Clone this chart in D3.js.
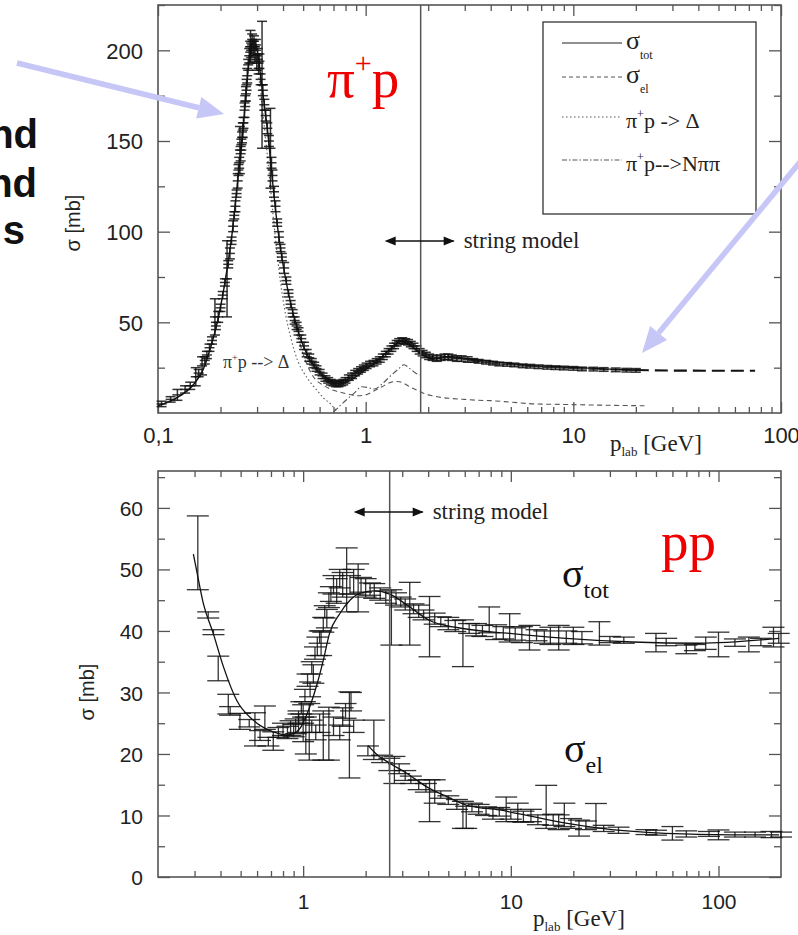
<!DOCTYPE html>
<html>
<head>
<meta charset="utf-8">
<script src="https://cdnjs.cloudflare.com/ajax/libs/d3/7.8.5/d3.min.js"></script>
<style>
  body { margin: 0; background: #fff; }
  svg { display: block; }
</style>
</head>
<body>
<svg id="chart" width="798" height="935"></svg>
<script>
// ---------------- pi+ p panel (top) ----------------
// fitted total cross section (solid), tail drawn dashed
const pipTotX = [0.1, 0.124, 0.149, 0.165, 0.179, 0.193, 0.21, 0.228, 0.242, 0.254, 0.265, 0.275, 0.288, 0.3, 0.312, 0.325, 0.339, 0.356, 0.375, 0.4, 0.425, 0.45, 0.486, 0.524, 0.564, 0.63, 0.73, 0.816, 0.91, 0.982, 1.14, 1.32, 1.47, 1.65, 1.84, 2.13, 2.5, 3.2, 4.0, 6.5, 10, 15, 20];
const pipTotY = [4, 8.6, 16, 24, 36, 50, 72, 100, 128, 150, 175, 195, 205, 200, 186, 170, 153, 128, 104, 82, 66, 54, 41, 32, 26, 20, 16.5, 17.3, 20.5, 23.3, 28.9, 35.3, 39.5, 37.1, 32.6, 29.8, 31, 29.8, 28.5, 26.1, 25.2, 24.2, 23.7];
const pipTailX = [20, 30, 45, 75];
const pipTailY = [23.7, 23.4, 23.3, 23.3];

// elastic (dashed)
const pipElX = [0.45, 0.505, 0.56, 0.63, 0.7, 0.757, 0.83, 0.912, 1.0, 1.1, 1.2, 1.32, 1.42, 1.52, 1.65, 1.78, 1.91, 2.1, 2.3, 2.6, 2.98, 3.5, 4.0, 5, 6.5, 8, 10, 14, 18, 22];
const pipElY = [52, 31, 20, 15.1, 12.5, 11.4, 10.3, 9.5, 10, 12.3, 14.5, 16.9, 17.4, 16.5, 14.1, 12.4, 10.8, 9.5, 8.6, 8, 7.5, 7, 6.8, 6, 5, 4.8, 4.6, 4.3, 4.1, 4];

// pi+ p -> Delta (dotted)
const pipDeltaX = [0.1, 0.124, 0.149, 0.165, 0.179, 0.193, 0.21, 0.228, 0.242, 0.254, 0.265, 0.275, 0.288, 0.3, 0.312, 0.325, 0.339, 0.362, 0.385, 0.412, 0.435, 0.47, 0.505, 0.545, 0.585, 0.63, 0.678, 0.73];
const pipDeltaY = [4, 8.6, 16, 24, 36, 50, 72, 100, 128, 150, 175, 193, 200, 192, 177, 158, 138, 104, 76, 54, 42, 29, 22, 16.5, 12.3, 8, 5, 0.5];

// pi+ p -> N pi pi (dash-dot)
const pipNppX = [0.7, 0.76, 0.816, 0.88, 0.96, 1.03, 1.1, 1.2, 1.32, 1.43, 1.53, 1.65, 1.77, 1.84];
const pipNppY = [0.5, 4.5, 7.7, 11, 14.5, 14, 13.2, 16, 20.6, 24, 26.6, 24, 21.5, 21];

// measured points [p_lab, sigma, error]
const pipData = [
  [0.104, 5, 1.5], [0.115, 7.5, 1.5], [0.124, 10, 3], [0.135, 13, 2], [0.143, 15, 2],
  [0.152, 20, 5], [0.157, 22, 2], [0.163, 26, 5], [0.168, 29, 2], [0.172, 32, 2],
  [0.177, 36, 2], [0.182, 40, 2], [0.188, 53, 10], [0.19, 48, 2], [0.195, 53, 3],
  [0.2, 58, 2], [0.205, 65, 2], [0.21, 72, 2], [0.215, 74, 21], [0.218, 82, 2],
  [0.222, 88, 3], [0.226, 95, 2], [0.23, 103, 3], [0.233, 109, 2], [0.236, 114, 3],
  [0.239, 121, 2], [0.242, 128, 4], [0.244, 134, 3], [0.246, 138, 3], [0.248, 145, 13],
  [0.25, 143, 4], [0.252, 148, 3], [0.254, 152, 3], [0.256, 156, 4], [0.258, 160, 3],
  [0.261, 167, 4], [0.263, 172, 3], [0.265, 176, 4], [0.267, 181, 3], [0.269, 186, 4],
  [0.272, 192, 3], [0.275, 197, 4], [0.278, 202, 3], [0.279, 202, 9], [0.281, 200, 4],
  [0.284, 206, 3], [0.287, 201, 4], [0.29, 205, 3], [0.293, 198, 4], [0.296, 203, 3],
  [0.299, 193, 4], [0.302, 198, 3], [0.305, 190, 3], [0.308, 194, 4], [0.312, 184, 3],
  [0.317, 181, 35], [0.32, 178, 3], [0.325, 170, 3], [0.33, 164, 3], [0.336, 157, 3],
  [0.342, 150, 3], [0.348, 146, 22], [0.352, 138, 3], [0.356, 131, 3], [0.362, 122, 3],
  [0.368, 114, 3], [0.375, 105, 2], [0.382, 97, 3], [0.389, 91, 2], [0.395, 86, 2],
  [0.405, 80, 3], [0.415, 73, 2], [0.425, 66, 2], [0.435, 60, 2], [0.445, 55, 2],
  [0.455, 51, 2], [0.465, 48, 2], [0.475, 45, 2], [0.49, 41, 2], [0.505, 37, 2],
  [0.52, 33, 2], [0.535, 30.5, 2], [0.55, 28.5, 1.5], [0.565, 26.5, 1.5], [0.58, 24.5, 1.5],
  [0.6, 22.5, 1.5], [0.62, 20.5, 1.5], [0.64, 19, 1.5], [0.66, 18, 1.5], [0.68, 17, 1.5],
  [0.7, 16.5, 1.5], [0.72, 16, 1.5], [0.74, 16, 1.5], [0.76, 16.5, 1.5], [0.78, 17, 1.5],
  [0.8, 18, 1.5], [0.83, 19.5, 1.5], [0.86, 20.5, 1.5], [0.89, 22, 1.5], [0.92, 23, 1.5],
  [0.95, 24, 1.5], [0.98, 25, 1.5], [1.01, 26, 1.5], [1.05, 27, 1.5], [1.09, 27.5, 1.5],
  [1.13, 28.5, 1.5], [1.17, 29.5, 1.5], [1.21, 31, 1.5], [1.25, 32.5, 1.5], [1.29, 34, 1.5],
  [1.33, 35.5, 1.5], [1.37, 37, 1.5], [1.41, 38.5, 1.5], [1.45, 39.5, 1.5], [1.5, 40, 1.5],
  [1.55, 39.5, 1.5], [1.6, 39, 1.5], [1.65, 38, 1.5], [1.7, 37, 1.5], [1.76, 35.5, 1.5],
  [1.82, 34, 1.5], [1.88, 33, 1.5], [1.95, 32, 1.5], [2.02, 31, 1.5], [2.1, 30.5, 1.5],
  [2.2, 30, 1.5], [2.3, 30.5, 1.5], [2.4, 31, 1.5], [2.5, 31, 1.5], [2.6, 30.5, 1.5],
  [2.75, 30, 1.5], [2.9, 30, 1.5], [3.1, 29.5, 1.5], [3.3, 29, 1], [3.5, 28.5, 1],
  [3.8, 28, 1], [4.1, 27.5, 1], [4.4, 27, 1], [4.8, 26.8, 1], [5.2, 26.5, 1],
  [5.7, 26, 1], [6.2, 25.8, 1], [6.8, 25.5, 1], [7.5, 25.2, 1], [8.2, 25, 1],
  [9, 24.8, 1], [10, 24.6, 1], [11, 24.3, 1], [12.5, 24.2, 1], [14, 24, 1],
  [16, 23.8, 1], [18, 23.6, 1], [20, 23.5, 1]
];

const pipStringP = 1.84;
const topXTicks = [0.1, 1, 10, 100];
const topXLabels = ["0,1", "1", "10", "100"];
const topYTicks = [50, 100, 150, 200];
const topYMinor = [25, 75, 125, 175, 225];

// ---------------- pp panel (bottom) ----------------
const ppTotCurveX = [0.296, 0.307, 0.331, 0.369, 0.413, 0.479, 0.575, 0.718, 0.832, 0.895, 0.98, 1.077, 1.17, 1.25, 1.34, 1.5, 1.68, 1.9, 2.2, 2.61, 3.26, 4.06, 5.4, 9.87, 18.4, 38.6, 80.9, 196];
const ppTotCurveY = [52.5, 49.8, 44.4, 39.6, 34.2, 28.7, 25.5, 23.6, 23.1, 23.3, 24.5, 27.7, 31.5, 35.2, 39.6, 42.8, 45, 46.2, 46.5, 46, 43.9, 41.7, 40.6, 39.6, 38.8, 38.2, 38, 38.8];
const ppElCurveX = [2.05, 2.25, 2.61, 3.14, 3.92, 4.89, 6.1, 8.81, 12.8, 18.4, 26.7, 55.5, 116, 196];
const ppElCurveY = [21.4, 20, 18.5, 16.9, 14.7, 13.1, 11.7, 10.9, 9.8, 8.76, 7.95, 7.1, 6.86, 6.86];

const ppTotData = [
  [0.311, 52.7, 6], [0.349, 42.6, 0.5], [0.37, 39.8, 0.4], [0.39, 33.9, 2], [0.436, 28.1, 1.6],
  [0.445, 27, 0.7], [0.496, 25.3, 1.3], [0.55, 25, 0.6], [0.586, 24, 2.7], [0.62, 23, 0.8],
  [0.654, 25.9, 1.9], [0.68, 22, 0.7], [0.718, 22.1, 1.5], [0.76, 23.5, 0.8], [0.8, 24, 1],
  [0.84, 23.5, 1], [0.87, 24.2, 1.2], [0.9, 23.8, 1],
  [0.92, 24.5, 1.2], [0.95, 26, 1], [0.98, 27.5, 1], [1.0, 26.5, 1.5], [1.02, 29.5, 1],
  [1.05, 32, 1], [1.08, 30.5, 1.2], [1.1, 34, 1], [1.12, 33, 1.5], [1.14, 36.4, 1],
  [1.17, 37.5, 1.5], [1.2, 39, 1], [1.22, 38, 2], [1.25, 41, 1.2], [1.27, 43.1, 1],
  [1.3, 42, 1.5], [1.33, 45, 1.2], [1.36, 46, 1.2], [1.4, 47.5, 1.5], [1.45, 46.5, 2],
  [1.5, 48.5, 1.5], [1.55, 47.5, 2], [1.62, 48.3, 5.2], [1.68, 47.5, 1.5], [1.75, 48, 2],
  [1.84, 47, 3.9], [1.9, 47.5, 1.2], [2.0, 47, 1.5], [2.1, 46.8, 1], [2.2, 46.5, 1.2],
  [2.35, 46, 1], [2.5, 45.5, 1], [2.66, 42.2, 4.5], [2.8, 45.2, 1], [2.95, 44.7, 0.8],
  [3.1, 44.3, 0.9], [3.26, 42.8, 5.1], [3.4, 43.6, 0.8], [3.6, 43.2, 1], [3.8, 42.6, 0.8],
  [4.06, 40.7, 4.9], [4.3, 42, 0.9], [4.6, 41.5, 0.8], [5.0, 41.2, 1], [5.4, 40.8, 0.9],
  [5.88, 38, 3.8], [6.3, 40.4, 0.8], [6.8, 40.2, 1], [7.3, 40, 0.9], [7.87, 41.8, 2.1],
  [8.5, 39.8, 1.2], [9.2, 39.7, 1], [9.87, 40.5, 2.3], [10.5, 39.5, 1], [11.3, 39.4, 1.3],
  [12.3, 38.9, 2], [13.3, 39.3, 0.9], [14.5, 39, 1], [15.5, 39.2, 1.4], [17, 38.9, 2],
  [18.5, 39, 1], [20, 39.2, 1.4], [22, 38.9, 1], [26.7, 39.6, 1.9], [30, 38.6, 0.5],
  [35, 38.5, 0.5], [50, 38.1, 1.5], [56, 38.2, 0.6], [70, 37, 0.7], [77, 37.3, 0.5],
  [86.8, 38, 1], [100, 37.8, 2], [120, 38.1, 0.6], [140, 37.8, 1.2], [160, 38.2, 0.6],
  [184, 39, 1.6], [195, 38.8, 0.8]
];

const ppElData = [
  [0.95, 25, 1.5], [1.0, 24, 2], [1.03, 23, 3], [1.07, 23.6, 4.6], [1.1, 24.5, 1],
  [1.15, 23.5, 1.2], [1.2, 25, 1.5], [1.25, 23, 4], [1.33, 23.3, 4.3], [1.4, 24.5, 1.5],
  [1.5, 23.5, 1.2], [1.55, 26, 1.5], [1.6, 27, 1.2], [1.67, 23.1, 7], [1.7, 28.5, 1.5],
  [1.75, 24.5, 1], [2.05, 20.5, 0.8], [2.19, 22.3, 3.2], [2.4, 19.2, 0.6], [2.6, 18.3, 1],
  [2.75, 17.4, 2.2], [2.9, 17.6, 0.8], [3.1, 16.5, 0.8], [3.3, 15.8, 0.6], [3.6, 15, 0.8],
  [3.9, 14.5, 0.7], [4.06, 12.4, 3.4], [4.3, 13.9, 1.9], [4.6, 13.4, 0.6], [5.0, 12.5, 0.7],
  [5.5, 11.8, 0.8], [5.88, 10.1, 2.2], [6.1, 9.7, 1.8], [6.5, 11.3, 0.7], [7, 11, 0.8],
  [7.6, 10.7, 0.7], [8.2, 10.3, 0.9], [8.8, 10.6, 0.7], [9.5, 11, 2], [10, 10.2, 0.8],
  [10.8, 10.5, 1.5], [11.5, 9.8, 0.9], [12.5, 10, 1], [13.5, 9.3, 0.8], [14.8, 11.4, 3.5],
  [16, 9.3, 0.9], [17, 8.9, 1.2], [18.1, 10.1, 1.9], [19.5, 8.7, 0.8], [21.3, 7.95, 1.3],
  [23, 8.4, 0.7], [25.7, 9.95, 2], [28, 7.9, 0.5], [33, 7.6, 0.5], [45, 7.3, 0.4],
  [50, 7.2, 0.4], [60, 7.1, 1.1], [70, 7.0, 0.5], [90, 7.0, 0.4], [100, 6.85, 0.8],
  [120, 6.9, 0.4], [150, 6.9, 0.4], [180, 6.9, 0.5], [200, 6.9, 0.4]
];

const ppStringP = 2.61;
const botXTicks = [1, 10, 100];
const botYTicks = [0, 10, 20, 30, 40, 50, 60];
const botYMinor = [5, 15, 25, 35, 45, 55, 65];

// legend entries
const legendNames = ["tot", "el", "delta", "npp"];

// ---------------------------------------------------
const svg = d3.select("#chart");
const sans = "'Liberation Sans', Arial, Helvetica, sans-serif";
const serif = "'Liberation Serif', 'Times New Roman', serif";
const frameColor = "#555";

const topX = d3.scaleLog().domain([0.1, 100]).range([158, 781]);
const topY = d3.scaleLinear().domain([0, 225]).range([413, 5]);
const botX = d3.scaleLog().domain([0.2, 200]).range([158, 781]);
const botY = d3.scaleLinear().domain([0, 66]).range([877, 471]);

function minorLog(lo, hi) {
  const out = [];
  for (let dec = Math.pow(10, Math.floor(Math.log10(lo))); dec < hi; dec *= 10) {
    for (let m = 2; m <= 9; m++) {
      const v = +(m * dec).toPrecision(3);
      if (v > lo && v < hi) out.push(v);
    }
  }
  return out;
}

function drawFrame(x, y, xMajor, xLabels, yMajor, yMinor, fontSize, labelBaseline) {
  const [x0, x1] = x.range();
  const [y0, y1] = y.range();
  const g = svg.append("g");
  // drop the axis defaults (domain line, 10px sans-serif) so our own style applies
  const strip = sel => sel.call(s => s.select(".domain").remove())
    .attr("font-size", null).attr("font-family", null)
    .style("font-family", sans).style("font-size", fontSize + "px")
    .call(s => s.selectAll("line").attr("stroke", frameColor).attr("stroke-width", 1.3));
  const xMinor = minorLog(x.domain()[0], x.domain()[1]);

  // bottom + top x ticks, inward
  g.append("g").attr("transform", `translate(0,${y0})`)
    .call(d3.axisBottom(x).tickValues(xMinor).tickSize(-6).tickFormat("")).call(strip);
  const xb = g.append("g").attr("transform", `translate(0,${y0})`)
    .call(d3.axisBottom(x).tickValues(xMajor).tickSize(-11).tickFormat((d, i) => xLabels[i])).call(strip);
  xb.selectAll("text").attr("y", labelBaseline - y0).attr("dy", 0).attr("fill", "#222");
  g.append("g").attr("transform", `translate(0,${y1})`)
    .call(d3.axisTop(x).tickValues(xMinor).tickSize(-6).tickFormat("")).call(strip);
  g.append("g").attr("transform", `translate(0,${y1})`)
    .call(d3.axisTop(x).tickValues(xMajor).tickSize(-11).tickFormat("")).call(strip);

  // left + right y ticks, inward
  const yl = g.append("g").attr("transform", `translate(${x0},0)`)
    .call(d3.axisLeft(y).tickValues(yMajor).tickSize(-12).tickPadding(15)).call(strip);
  yl.selectAll("text").attr("fill", "#222").attr("dy", "0.36em");
  g.append("g").attr("transform", `translate(${x0},0)`)
    .call(d3.axisLeft(y).tickValues(yMinor).tickSize(-7).tickFormat("")).call(strip);
  g.append("g").attr("transform", `translate(${x1},0)`)
    .call(d3.axisRight(y).tickValues(yMajor).tickSize(-12).tickFormat("")).call(strip);
  g.append("g").attr("transform", `translate(${x1},0)`)
    .call(d3.axisRight(y).tickValues(yMinor).tickSize(-7).tickFormat("")).call(strip);

  svg.append("rect").attr("x", x0).attr("y", y1).attr("width", x1 - x0).attr("height", y0 - y1)
    .attr("fill", "none").attr("stroke", frameColor).attr("stroke-width", 1.6);
}

function curve(x, y, xs, ys, style) {
  const pts = xs.map((v, i) => [v, ys[i]]);
  const line = d3.line().x(d => x(d[0])).y(d => y(d[1])).curve(d3.curveMonotoneX);
  return svg.append("path").datum(pts).attr("d", line)
    .attr("fill", "none").attr("stroke", style.color || "#222")
    .attr("stroke-width", style.width || 1.2)
    .attr("stroke-dasharray", style.dash || null);
}

function errorBars(x, y, data, half, mid, width) {
  const g = svg.append("g").attr("stroke", "#111").attr("stroke-width", width).attr("stroke-opacity", 0.85);
  const pt = g.selectAll("g").data(data).join("g");
  pt.append("line").attr("x1", d => x(d[0])).attr("x2", d => x(d[0]))
    .attr("y1", d => y(d[1] - d[2])).attr("y2", d => y(d[1] + d[2]));
  pt.append("line").attr("x1", d => x(d[0]) - half).attr("x2", d => x(d[0]) + half)
    .attr("y1", d => y(d[1] + d[2])).attr("y2", d => y(d[1] + d[2]));
  pt.append("line").attr("x1", d => x(d[0]) - half).attr("x2", d => x(d[0]) + half)
    .attr("y1", d => y(d[1] - d[2])).attr("y2", d => y(d[1] - d[2]));
  if (mid) {
    pt.append("line").attr("x1", d => x(d[0]) - half).attr("x2", d => x(d[0]) + half)
      .attr("y1", d => y(d[1])).attr("y2", d => y(d[1]));
  }
}

function arrowHead(x, y, dir, color) {
  // dir: +1 pointing right, -1 pointing left
  svg.append("path")
    .attr("d", `M${x},${y} l${-dir * 11},-4.5 l0,9 Z`)
    .attr("fill", color);
}

function stringModel(x, y, yPix, pStr) {
  const xs = x(pStr);
  svg.append("line").attr("x1", xs).attr("x2", xs).attr("y1", y.range()[0]).attr("y2", y.range()[1])
    .attr("stroke", frameColor).attr("stroke-width", 1.5);
  svg.append("line").attr("x1", xs - 34).attr("x2", xs + 33).attr("y1", yPix).attr("y2", yPix)
    .attr("stroke", "#111").attr("stroke-width", 1.3);
  arrowHead(xs - 36, yPix, -1, "#111");
  arrowHead(xs + 34, yPix, 1, "#111");
  svg.append("text").attr("x", xs + 43).attr("y", yPix + 7)
    .style("font-family", serif).style("font-size", "23px").attr("fill", "#222")
    .text("string model");
}

function yLabel(cx, cy) {
  svg.append("text").attr("transform", `translate(${cx},${cy}) rotate(-90)`)
    .attr("text-anchor", "middle").attr("dy", "0.35em")
    .style("font-family", sans).style("font-size", "20px").attr("fill", "#222")
    .text("σ [mb]");
}

function xLabel(x0, base) {
  const t = svg.append("text").attr("x", x0).attr("y", base)
    .style("font-family", serif).style("font-size", "23px").attr("fill", "#222");
  t.append("tspan").text("p");
  t.append("tspan").attr("dy", 5).style("font-size", "13px").text("lab");
  t.append("tspan").attr("dy", -5).text(" [GeV]");
}

// ---------------- top panel ----------------
drawFrame(topX, topY, topXTicks, topXLabels, topYTicks, topYMinor, 22, 443);

curve(topX, topY, pipDeltaX, pipDeltaY, { color: "#666", width: 1.2, dash: "1.5,2.5" });
curve(topX, topY, pipElX, pipElY, { color: "#555", width: 1.1, dash: "5,3.5" });
curve(topX, topY, pipNppX, pipNppY, { color: "#555", width: 1.1, dash: "6,2.5,1.5,2.5" });
errorBars(topX, topY, pipData, 5, true, 1.5);
curve(topX, topY, pipTotX, pipTotY, { color: "#111", width: 1.4 });
curve(topX, topY, pipTailX, pipTailY, { color: "#111", width: 2.2, dash: "13,6" });

stringModel(topX, topY, 241, pipStringP);
yLabel(73, 223);
xLabel(610, 451);

// label for the Delta curve
const dl = svg.append("text").attr("x", 223).attr("y", 368)
  .style("font-family", serif).style("font-size", "18px").attr("fill", "#333");
dl.append("tspan").text("π");
dl.append("tspan").attr("dy", -7).style("font-size", "10px").text("+");
dl.append("tspan").attr("dy", 7).text("p --> Δ");

// legend
const lg = svg.append("g");
lg.append("rect").attr("x", 543).attr("y", 22).attr("width", 213).attr("height", 192)
  .attr("fill", "#fff").attr("stroke", "#333").attr("stroke-width", 1.3);
const legendY = [43, 77, 117, 160];
const legendDash = [null, "4,3", "1.5,2.5", "5,2,1.5,2"];
legendNames.forEach((name, i) => {
  lg.append("line").attr("x1", 562).attr("x2", 622).attr("y1", legendY[i]).attr("y2", legendY[i])
    .attr("stroke", i === 0 ? "#222" : "#555").attr("stroke-width", 1.1)
    .attr("stroke-dasharray", legendDash[i]);
  const t = lg.append("text").attr("x", 626).style("font-family", serif).attr("fill", "#222");
  if (name === "tot" || name === "el") {
    t.attr("y", legendY[i] + 6).style("font-size", "26px");
    t.append("tspan").text("σ");
    t.append("tspan").attr("dy", 10).style("font-size", "12px").text(name);
  } else {
    t.attr("y", legendY[i] + 11).style("font-size", "22px");
    t.append("tspan").text("π");
    t.append("tspan").attr("dy", -10).style("font-size", "12px").text("+");
    t.append("tspan").attr("dy", 10).text(name === "delta" ? "p -> Δ" : "p-->Nππ");
  }
});

// red reaction label
const rl = svg.append("text").attr("x", 327).attr("y", 97)
  .style("font-family", serif).style("font-size", "55px").attr("fill", "#ee0000");
rl.append("tspan").text("π");
rl.append("tspan").attr("dy", -24).style("font-size", "30px").text("+");
rl.append("tspan").attr("dy", 24).text("p");

// ---------------- bottom panel ----------------
drawFrame(botX, botY, botXTicks, ["1", "10", "100"], botYTicks, botYMinor, 21, 909);

errorBars(botX, botY, ppElData, 11, false, 1.3);
errorBars(botX, botY, ppTotData, 11, false, 1.3);
curve(botX, botY, ppTotCurveX, ppTotCurveY, { color: "#111", width: 1.3 });
curve(botX, botY, ppElCurveX, ppElCurveY, { color: "#111", width: 1.3 });

stringModel(botX, botY, 512, ppStringP);
yLabel(87, 692);
xLabel(533, 926);

const st = svg.append("text").attr("x", 562).attr("y", 587)
  .style("font-family", serif).style("font-size", "40px").attr("fill", "#111");
st.append("tspan").text("σ");
st.append("tspan").attr("dy", 11).style("font-size", "24px").text("tot");
const se = svg.append("text").attr("x", 564).attr("y", 762)
  .style("font-family", serif).style("font-size", "40px").attr("fill", "#111");
se.append("tspan").text("σ");
se.append("tspan").attr("dy", 11).style("font-size", "24px").text("el");

svg.append("text").attr("x", 661).attr("y", 560)
  .style("font-family", serif).style("font-size", "55px").attr("fill", "#ee0000")
  .text("pp");

// ---------------- slide overlay: pointer arrows and cut-off text ----------------
const lav = "#c6c6f7";
function pointer(x1, y1, x2, y2) {
  const a = Math.atan2(y2 - y1, x2 - x1), L = 26, W = 11;
  const bx = x2 - L * Math.cos(a), by = y2 - L * Math.sin(a);
  svg.append("line").attr("x1", x1).attr("y1", y1).attr("x2", bx).attr("y2", by)
    .attr("stroke", lav).attr("stroke-width", 5.5);
  svg.append("path").attr("fill", lav)
    .attr("d", `M${x2},${y2} L${bx + W * Math.sin(a)},${by - W * Math.cos(a)} L${bx - W * Math.sin(a)},${by + W * Math.cos(a)} Z`);
}
pointer(17, 63, 224, 114);
pointer(800, 162, 642, 353);

// fragments of the slide's side text, cut by the left edge as in the source
const slideText = [["nd", 148, 38], ["nd", 197, 37], ["s", 244, 25]];
slideText.forEach(([t, yb, xe]) => {
  svg.append("text").attr("x", xe).attr("y", yb).attr("text-anchor", "end")
    .style("font-family", sans).style("font-weight", "bold").style("font-size", "40px")
    .attr("fill", "#111").text(t);
});
</script>
</body>
</html>
